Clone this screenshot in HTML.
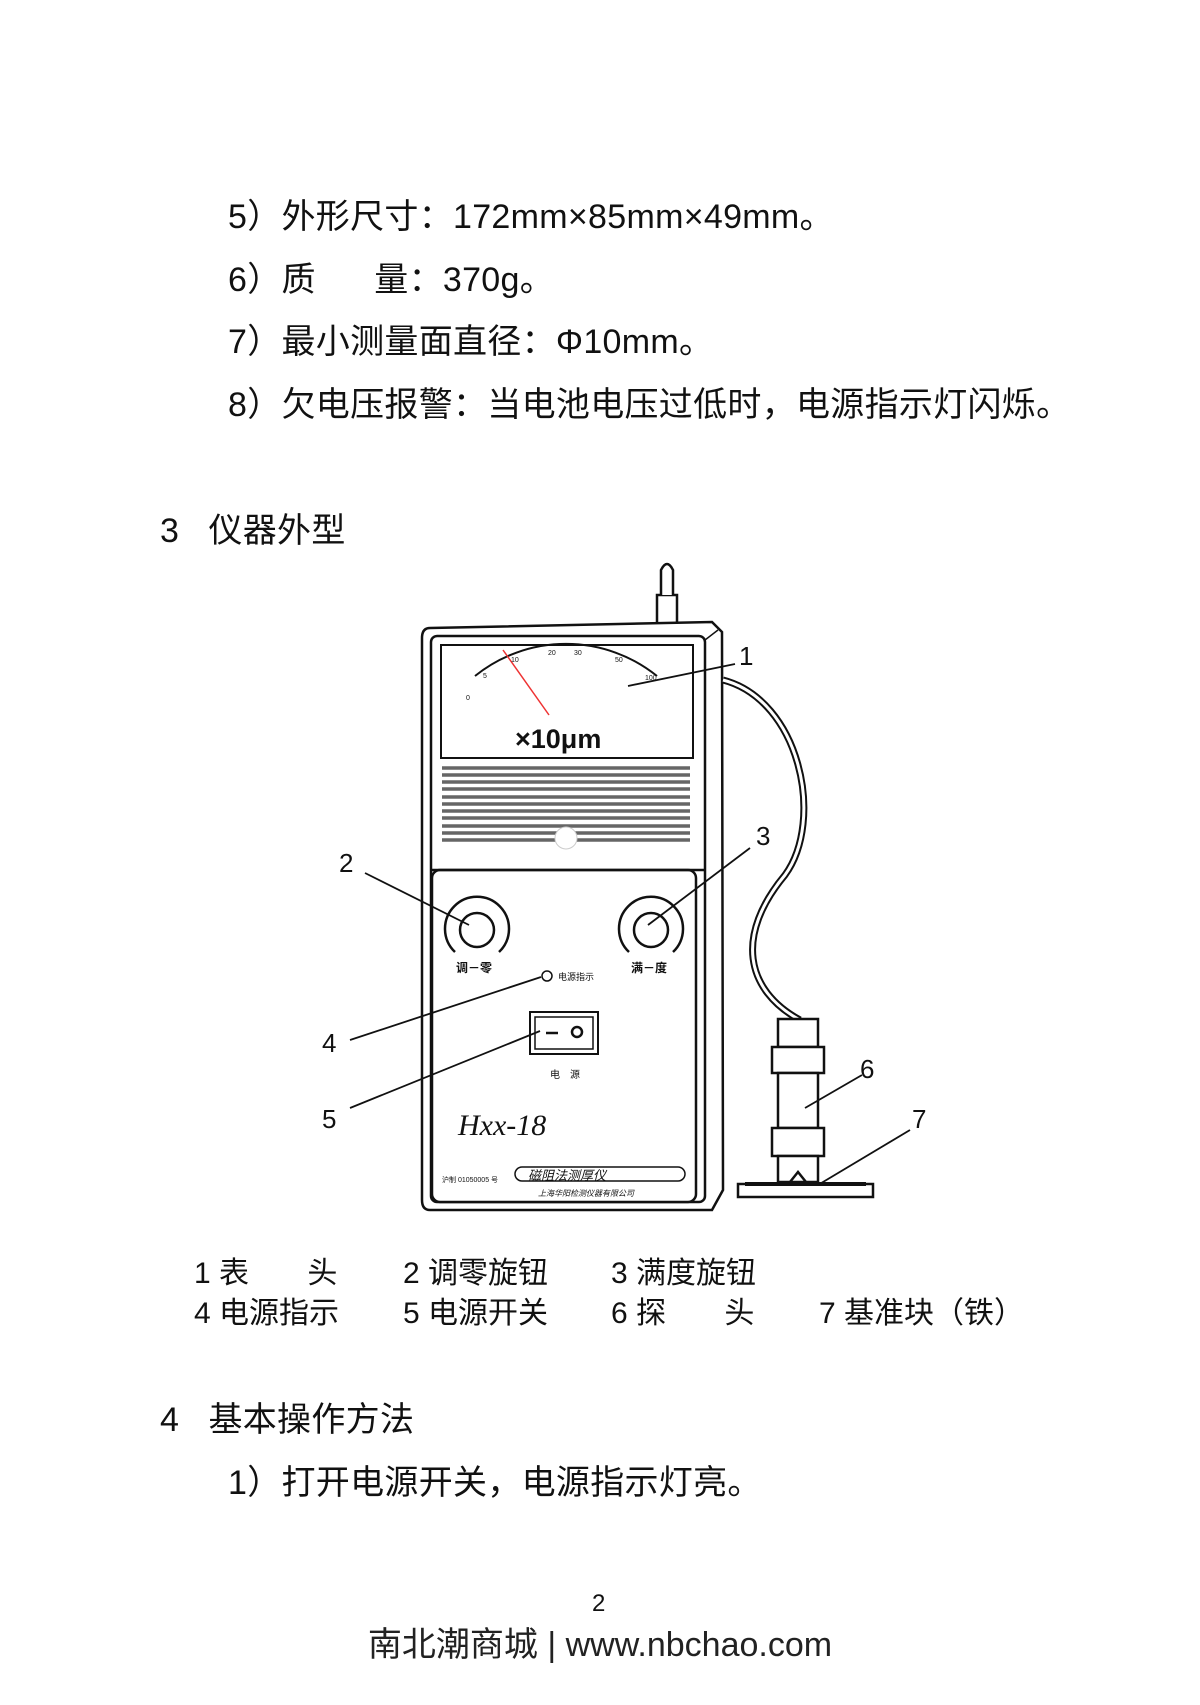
<!DOCTYPE html>
<html><head><meta charset="utf-8"><style>
html,body{margin:0;padding:0;background:#fff}
body{width:1200px;height:1705px;position:relative;overflow:hidden;font-family:"Liberation Sans","Noto Sans CJK SC",sans-serif;color:#111}
.t{position:absolute;white-space:nowrap;font-size:34px;line-height:1;letter-spacing:0.3px}
.l{position:absolute;white-space:nowrap;font-size:30px;line-height:1}
</style></head><body>
<div class="t" style="left:228px;top:200px">5）外形尺寸：172mm×85mm×49mm。</div>
<div class="t" style="left:228px;top:263px">6）质&nbsp;&nbsp;&nbsp;&nbsp;&nbsp;&nbsp;量：370g。</div>
<div class="t" style="left:228px;top:325px">7）最小测量面直径：Φ10mm。</div>
<div class="t" style="left:228px;top:388px">8）欠电压报警：当电池电压过低时，电源指示灯闪烁。</div>
<div class="t" style="left:160px;top:514px">3&nbsp;&nbsp;&nbsp;仪器外型</div>

<svg style="position:absolute;left:0;top:0" width="1200" height="1705">
<g fill="none" stroke="#111" stroke-width="2.5">
<rect x="657" y="595" width="20" height="33" fill="#fff"/>
<path d="M661,595 V570 Q667,558 673,570 V595" fill="#fff"/>
<path d="M430,628 L712,622 L722,632 L723,1190 L712,1210 L430,1210 Q422,1210 422,1200 V638 Q422,628 430,628Z" fill="#fff"/>
<rect x="431" y="636" width="274" height="566" rx="6"/>
<rect x="441" y="645" width="252" height="113" stroke-width="2"/>
<line x1="705" y1="640" x2="718" y2="630" stroke-width="1.5"/>
<g stroke="#666" stroke-width="3.5">
<line x1="442" y1="768" x2="690" y2="768"/><line x1="442" y1="775" x2="690" y2="775"/>
<line x1="442" y1="782" x2="690" y2="782"/><line x1="442" y1="789" x2="690" y2="789"/>
<line x1="442" y1="797" x2="690" y2="797"/><line x1="442" y1="804" x2="690" y2="804"/>
<line x1="442" y1="811" x2="690" y2="811"/><line x1="442" y1="818" x2="690" y2="818"/>
<line x1="442" y1="826" x2="690" y2="826"/><line x1="442" y1="833" x2="690" y2="833"/>
<line x1="442" y1="840" x2="690" y2="840"/>
</g>
<circle cx="566" cy="838" r="11" fill="#fff" stroke="#ccc" stroke-width="1"/>
<rect x="432" y="870" width="264" height="332" rx="8" fill="#fff"/>
<line x1="431" y1="870" x2="705" y2="870"/>
<circle cx="477" cy="930" r="17"/>
<path d="M455,952 A32,32 0 1,1 499,952"/>
<circle cx="651" cy="930" r="17"/>
<path d="M629,952 A32,32 0 1,1 673,952"/>
<circle cx="547" cy="976" r="5" stroke-width="1.5"/>
<rect x="530" y="1012" width="68" height="42" stroke-width="2"/>
<rect x="535" y="1017" width="58" height="32" stroke-width="1.5"/>
<line x1="546" y1="1033" x2="558" y2="1033"/>
<circle cx="577" cy="1032" r="5"/>
<rect x="515" y="1167" width="170" height="14" rx="7" stroke-width="1.5"/>
<path d="M475,676 A145,145 0 0,1 657,676" stroke-width="2"/>
<line x1="503" y1="650" x2="549" y2="715" stroke="#e33" stroke-width="1.5"/>
<path d="M723,680 C800,700 825,820 785,875 C735,935 745,990 800,1020" stroke-width="7"/>
<path d="M723,680 C800,700 825,820 785,875 C735,935 745,990 800,1020" stroke="#fff" stroke-width="3"/>
<rect x="778" y="1019" width="40" height="28" fill="#fff"/>
<rect x="772" y="1047" width="52" height="26" fill="#fff"/>
<rect x="778" y="1073" width="40" height="55" fill="#fff"/>
<rect x="772" y="1128" width="52" height="28" fill="#fff"/>
<rect x="778" y="1156" width="40" height="26" fill="#fff"/>
<path d="M790,1182 L798,1172 L806,1182"/>
<rect x="738" y="1184" width="135" height="13" fill="#fff"/>
<line x1="745" y1="1184" x2="866" y2="1184" stroke-width="4"/>
<g stroke-width="1.8">
<line x1="628" y1="686" x2="735" y2="664"/>
<line x1="365" y1="873" x2="469" y2="925"/>
<line x1="750" y1="848" x2="648" y2="925"/>
<line x1="350" y1="1040" x2="541" y2="977"/>
<line x1="350" y1="1108" x2="540" y2="1031"/>
<line x1="862" y1="1075" x2="805" y2="1108"/>
<line x1="910" y1="1130" x2="818" y2="1185"/>
</g>
</g>
<g font-family="Liberation Sans,sans-serif" fill="#111">
<text x="515" y="748" font-size="27" font-weight="bold">×10μm</text>
<g font-size="7"><text x="466" y="700">0</text><text x="483" y="678">5</text><text x="511" y="662">10</text><text x="548" y="655">20</text><text x="574" y="655">30</text><text x="615" y="662">50</text><text x="645" y="680">100</text></g>
<g font-family="Liberation Sans,Noto Sans CJK SC,sans-serif">
<text x="456" y="972" font-size="12" font-weight="bold">调－零</text>
<text x="631" y="972" font-size="12" font-weight="bold">满－度</text>
<text x="558" y="980" font-size="9">电源指示</text>
<text x="550" y="1078" font-size="10">电　源</text>
<text x="458" y="1135" font-size="30" font-style="italic" font-family="Liberation Serif,serif">Hxx-18</text>
<text x="528" y="1180" font-size="13" font-style="italic">磁阻法测厚仪</text>
<text x="442" y="1182" font-size="7">沪制 01050005 号</text>
<text x="538" y="1196" font-size="8" font-style="italic">上海华阳检测仪器有限公司</text>
</g>
<g font-size="26"><text x="739" y="665">1</text><text x="339" y="872">2</text><text x="756" y="845">3</text><text x="322" y="1052">4</text><text x="322" y="1128">5</text><text x="860" y="1078">6</text><text x="912" y="1128">7</text></g>
</g>
</svg>

<div class="l" style="left:194px;top:1259px">1 表&nbsp;&nbsp;&nbsp;&nbsp;&nbsp;&nbsp;&nbsp;头</div>
<div class="l" style="left:403px;top:1259px">2 调零旋钮</div>
<div class="l" style="left:611px;top:1259px">3 满度旋钮</div>
<div class="l" style="left:194px;top:1299px">4 电源指示</div>
<div class="l" style="left:403px;top:1299px">5 电源开关</div>
<div class="l" style="left:611px;top:1299px">6 探&nbsp;&nbsp;&nbsp;&nbsp;&nbsp;&nbsp;&nbsp;头</div>
<div class="l" style="left:819px;top:1299px">7 基准块（铁）</div>

<div class="t" style="left:160px;top:1403px">4&nbsp;&nbsp;&nbsp;基本操作方法</div>
<div class="t" style="left:228px;top:1466px">1）打开电源开关，电源指示灯亮。</div>
<div class="t" style="left:592px;top:1592px;font-size:24px">2</div>
<div class="t" style="left:0;width:1200px;text-align:center;top:1628px;font-size:34px;color:#222;letter-spacing:0">南北潮商城 | www.nbchao.com</div>
</body></html>
